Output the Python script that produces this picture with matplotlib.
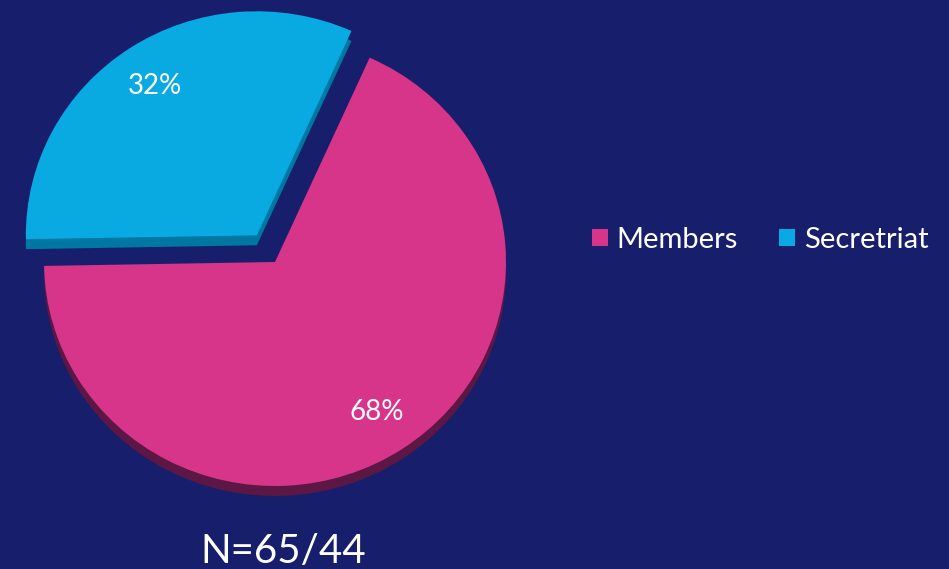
import matplotlib.pyplot as plt

labels = ["Members", "Secretriat"]
values = [68, 32]
explode = [0, 33]
top_colors = ["#D6358A", "#09AAE1"]
side_colors = ["#5C1744", "#0077A3"]
note = "N=65/44"

bg = "#171E6C"
plt.rcParams['font.family'] = ['Lato', 'DejaVu Sans']

fig = plt.figure(figsize=(9.49, 5.69), dpi=100, facecolor=bg)
ax = fig.add_axes([0, 0, 1, 1])
ax.set_facecolor(bg)

# pie is drawn as a circle, then y is squashed a little for the tilt
squash = 231 / 224
cx, cy, r, depth = 275, 307 * squash, 231, 10 * squash

# darker copy underneath gives the 3D rim
ax.pie(values, colors=side_colors, startangle=181, explode=explode,
       radius=r, center=(cx, cy - depth))
wedges, texts, autotexts = ax.pie(
    values, colors=top_colors, startangle=181, explode=explode,
    radius=r, center=(cx, cy), autopct='%d%%', pctdistance=0.8,
    textprops=dict(color='white', fontsize=20))

ax.set_aspect('auto')
ax.set_xlim(0, 949)
ax.set_ylim(0, 569 * squash)
ax.axis('off')

ax.legend(wedges, labels, loc='center', bbox_to_anchor=(760 / 949, 1 - 240 / 569),
          ncol=2, frameon=False, labelcolor='white', fontsize=21,
          handlelength=0.55, handleheight=0.55, handletextpad=0.3,
          columnspacing=1.4)

fig.text(283 / 949, 1 - 563 / 569, note, ha='center', va='baseline',
         color='white', fontsize=29)

fig.savefig("out.png", dpi=100, facecolor=bg)
